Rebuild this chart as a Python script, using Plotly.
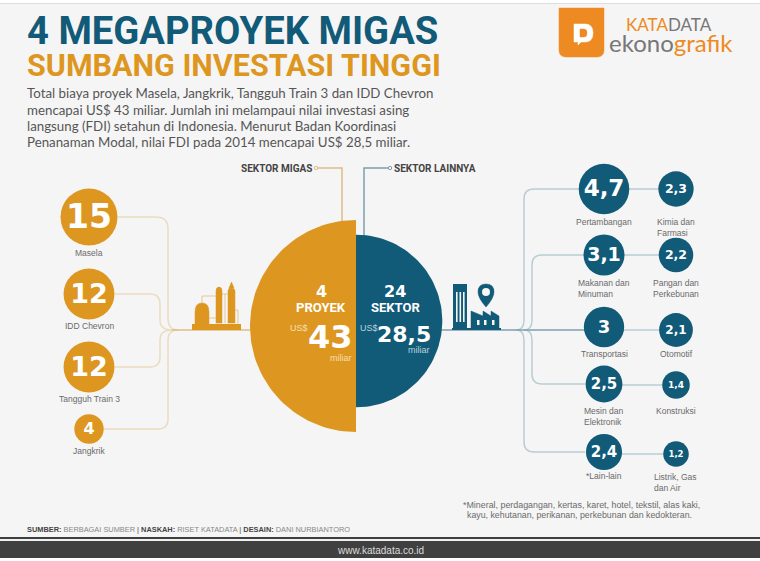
import numpy as np
import plotly.graph_objects as go

# values (US$ miliar)
proyek = ["Masela", "IDD Chevron", "Tangguh Train 3", "Jangkrik"]
proyek_val = [15, 12, 12, 4]

sektor_a = ["Pertambangan", "Makanan dan<br>Minuman", "Transportasi", "Mesin dan<br>Elektronik", "*Lain-lain"]
sektor_a_val = [4.7, 3.1, 3, 2.5, 2.4]
sektor_b = ["Kimia dan<br>Farmasi", "Pangan dan<br>Perkebunan", "Otomotif", "Konstruksi", "Listrik, Gas<br>dan Air"]
sektor_b_val = [2.3, 2.2, 2.1, 1.4, 1.2]

total_migas = 43
total_lain = 28.5

# layout stuff
proyek_x = [89, 89, 89, 89]
proyek_y = [217, 294, 367, 429]
proyek_font = [33, 27, 27, 16]
a_x = [604, 604, 604, 604, 604]
a_y = [189, 255, 327, 384, 452]
a_font = [23, 19, 18, 15, 15]
b_x = [676, 676, 676, 676, 676]
b_y = [189, 255, 330, 385, 454]
b_font = [12.5, 12.5, 12, 9, 8.5]

# label placing: (x, y, anchor) for each name
a_lab = [(604, 222, "center"), (578, 288, "left"), (604, 354, "center"), (584, 416, "left"), (604, 476, "center")]
b_lab = [(657, 227, "left"), (653, 288, "left"), (676, 354, "center"), (676, 411, "center"), (654, 482, "left")]

ORANGE = "#dd9720"
BLUE = "#115a78"
TAN = "#ecdcc0"
TAN2 = "#dcbd86"
STEEL = "#b9cdd4"
STEEL2 = "#7f9fae"
GREY = "#6a6a6a"
SANS = "Liberation Sans"
HEAD = "Roboto"
BODY = "Lato"
NUM = "DejaVu Sans"


def comma(v):
    return str(v).replace(".", ",")


fig = go.Figure()
shapes = []
notes = []


def rect(x0, y0, x1, y1, color):
    shapes.append(dict(type="rect", x0=x0, y0=y0, x1=x1, y1=y1, fillcolor=color, line_width=0, layer="below"))


def path(d, color, width=1.5, fill=None):
    s = dict(type="path", path=d, line=dict(color=color, width=width), layer="below")
    if fill:
        s["fillcolor"] = fill
    shapes.append(s)


def text(x, y, t, size, color=GREY, anchor="center", font=SANS):
    # annotations carry about 2px of padding on their anchored side
    x = x + {"left": -2, "right": 2, "center": 0}[anchor]
    notes.append(dict(x=x, y=y, text=t, showarrow=False, xanchor=anchor, yanchor="middle", align=anchor,
                      font=dict(size=size, color=color, family=font)))


# top strip and footer
rect(0, 0, 760, 3, "#ffffff")
rect(0, 3, 760, 4, "#dedede")
rect(0, 537, 760, 539, "#3f3f3f")
rect(0, 539, 760, 541, "#f0f0f0")
rect(0, 541, 760, 558, "#404040")
rect(0, 558, 760, 561, "#ffffff")

# left connectors
path("M 118 217 L 156 217 Q 168 217 168 229 L 168 318 Q 168 330 178 330", TAN)
path("M 115 294 L 150 294 Q 160 294 160 304 L 160 320 Q 160 330 172 330", TAN)
path("M 115 367 L 150 367 Q 160 367 160 357 L 160 340 Q 160 330 172 330", TAN)
path("M 104 429 L 158 429 Q 168 429 168 419 L 168 340 Q 168 330 178 330", TAN)
path("M 172 330 L 252 330", TAN2, 1.5)

# right connectors
path("M 580 189 L 534 189 Q 524 189 524 199 L 524 320 Q 524 330 516 330", STEEL)
path("M 585 255 L 542 255 Q 532 255 532 265 L 532 320 Q 532 330 524 330", STEEL)
path("M 585 384 L 542 384 Q 532 384 532 374 L 532 340 Q 532 330 524 330", STEEL)
path("M 585 452 L 534 452 Q 524 452 524 442 L 524 340 Q 524 330 516 330", STEEL)
path("M 440 330 L 590 330", STEEL2, 1.5)
for yb, xa, xb in zip(b_y, a_x, b_x):
    path(f"M {xa} {yb} L {xb} {yb}", STEEL)

# sektor callouts
path("M 316 168 L 342 168 L 342 225", TAN2)
path("M 390 168 L 364 168 L 364 240", STEEL2)
for cx, c in [(316, TAN2), (390, STEEL2)]:
    shapes.append(dict(type="circle", x0=cx - 1.7, x1=cx + 1.7, y0=166.3, y1=169.7, fillcolor="#f5f5f5",
                       line=dict(color=c, width=1), layer="below"))

# refinery icon
rect(192, 324, 241, 330, ORANGE)
path("M 195 324 L 195 312 Q 195 303 202 303 Q 209 303 209 312 L 209 324 Z", ORANGE, 0.5, ORANGE)
path("M 216 323 L 216 291 Q 216 287 219 287 Q 222 287 222 291 L 222 323 Z", ORANGE, 0.5, ORANGE)
path("M 228 323 L 228 291 Q 228 288 231 288 Q 235 288 235 291 L 235 323 Z", ORANGE, 0.5, ORANGE)
path("M 229 288 L 231.5 282 L 234 288 Z", ORANGE, 0.5, ORANGE)
path("M 202 303 L 202 296 L 216 296", TAN2, 0.8)
path("M 222 294 L 228 294", TAN2, 0.8)
path("M 225 323 L 225 294", TAN2, 0.8)
path("M 235 310 L 238 310 L 238 324", TAN2, 0.8)
path("M 209 318 L 216 318", TAN2, 0.8)

# factory icon
rect(452, 328, 501, 330, BLUE)
rect(453, 284, 467, 328, BLUE)
for sx in (456, 459.5, 463):
    rect(sx, 292, sx + 1.6, 322, "#f5f5f5")
path("M 471 328 L 471 311 L 483 316 L 483 311 L 491 316 L 491 311 L 499 316 L 499 328 Z", BLUE, 0.5, BLUE)
for wx in (477, 484, 492):
    rect(wx, 320, wx + 2.5, 325, "#f5f5f5")
path("M 478 292 Q 478 284 486 284 Q 494 284 494 292 Q 494 298 486 307 Q 478 298 478 292 Z", BLUE, 0.5, BLUE)
shapes.append(dict(type="circle", x0=482, x1=490, y0=288, y1=296, fillcolor="#f5f5f5", line_width=0, layer="below"))

# logo
path("M 559 8 L 604 8 L 604 50 Q 604 57 597 57 L 566 57 Q 559 57 559 50 Z", "#ee8a22", 0.5, "#ee8a22")
path("M 574 24 L 585 24 Q 593 24 593 33 Q 593 42 585 42 L 581 42 L 578 45 L 578 42 L 574 42 Z", "#ffffff", 0.5, "#ffffff")
path("M 580 29 L 584 29 Q 587 29 587 33 Q 587 37 584 37 L 580 37 Z", "#ee8a22", 0.5, "#ee8a22")

# half circles, radius goes with sqrt of the total
k = 106 / np.sqrt(total_migas)
r1 = k * np.sqrt(total_migas)
r2 = k * np.sqrt(total_lain)
t = np.linspace(np.pi / 2, 3 * np.pi / 2, 80)
fig.add_trace(go.Scatter(x=356 + r1 * np.cos(t), y=326 - r1 * np.sin(t), fill="toself", fillcolor=ORANGE,
                         mode="lines", line=dict(width=0, color=ORANGE), hoverinfo="skip"))
t = np.linspace(-np.pi / 2, np.pi / 2, 80)
fig.add_trace(go.Scatter(x=356 + r2 * np.cos(t), y=321 - r2 * np.sin(t), fill="toself", fillcolor=BLUE,
                         mode="lines", line=dict(width=0, color=BLUE), hoverinfo="skip"))

# bubbles
for xs, ys, vals, fonts, color, scale in [(proyek_x, proyek_y, proyek_val, proyek_font, ORANGE, 14.7),
                                          (a_x, a_y, sektor_a_val, a_font, BLUE, 23.3),
                                          (b_x, b_y, sektor_b_val, b_font, BLUE, 23.3)]:
    fig.add_trace(go.Scatter(x=xs, y=ys, mode="markers",
                             marker=dict(color=color, opacity=1, size=[scale * np.sqrt(v) for v in vals], line_width=0)))
    # digits sit a bit high when centred, push down a little
    fig.add_trace(go.Scatter(x=xs, y=[y + 0.07 * f for y, f in zip(ys, fonts)], mode="text",
                             text=[comma(v) for v in vals], textposition="middle center",
                             textfont=dict(family=NUM, color="white", size=fonts, weight="bold")))

# title + intro
text(27, 31, "<b>4 MEGAPROYEK MIGAS</b>", 38.2, BLUE, "left", HEAD)
text(27, 65, "<b>SUMBANG INVESTASI TINGGI</b>", 30.5, ORANGE, "left", HEAD)
intro = ["Total biaya proyek Masela, Jangkrik, Tangguh Train 3 dan IDD Chevron",
         "mencapai US$ 43 miliar. Jumlah ini melampaui nilai investasi asing",
         "langsung (FDI) setahun di Indonesia. Menurut Badan Koordinasi",
         "Penanaman Modal, nilai FDI pada 2014 mencapai US$ 28,5 miliar."]
for y, line in zip([93, 110, 126, 142], intro):
    text(27, y, line, 13.3, "#555555", "left", BODY)

# logo text
text(626, 24, "<span style='color:#ee8a22'>KATA</span><span style='color:#777'>DATA</span>", 17, GREY, "left", BODY)
text(609, 42, "<span style='color:#777'>ekono</span><span style='color:#ee8a22'>grafik</span>", 24, GREY, "left", BODY)

text(312, 168, "<b>SEKTOR MIGAS</b>", 10, "#444444", "right", HEAD)
text(394, 168, "<b>SEKTOR LAINNYA</b>", 10, "#444444", "left", HEAD)

# bubble labels
for x, y, name in zip(proyek_x, [253, 326, 399, 451], proyek):
    text(x, y, name, 8.5)
for (x, y, anchor), name in zip(a_lab + b_lab, sektor_a + sektor_b):
    text(x, y, name, 8.5, GREY, anchor)

# inside the half circles
rect(291, 317, 352, 318, "#f2d9a8")
rect(360, 317, 430, 318, "#a8c6d2")
text(321, 291, f"<b>{len(proyek)}</b>", 16, "white", "center", NUM)
text(321, 307, "<b>PROYEK</b>", 13, "white", "center", HEAD)
text(299, 328, "US$", 9, "#f5dfb4")
text(330, 337, f"<b>{total_migas}</b>", 32, "white", "center", NUM)
text(352, 358, "miliar", 9, "#f5dfb4", "right")
text(395, 291, "<b>24</b>", 16, "white", "center", NUM)
text(395, 307, "<b>SEKTOR</b>", 13, "white", "center", HEAD)
text(369, 328, "US$", 9, "#b9d3dd")
text(404, 334, f"<b>{comma(total_lain)}</b>", 22, "white", "center", NUM)
text(430, 350, "miliar", 9, "#b9d3dd", "right")

# footnote + credits
text(463, 505, "*Mineral, perdagangan, kertas, karet, hotel, tekstil, alas kaki,", 8.9, GREY, "left")
text(467, 515, "kayu, kehutanan, perikanan, perkebunan dan kedokteran.", 8.8, GREY, "left")
text(27, 529, "<b>SUMBER:</b> <span style='color:#888'>BERBAGAI SUMBER</span> | <b>NASKAH:</b> "
              "<span style='color:#888'>RISET KATADATA</span> | <b>DESAIN:</b> "
              "<span style='color:#888'>DANI NURBIANTORO</span>", 7.4, "#444444", "left")
text(380, 550, "www.katadata.co.id", 10, "#dddddd")

fig.update_layout(width=760, height=561, margin=dict(l=0, r=0, t=0, b=0), showlegend=False,
                  paper_bgcolor="#f5f5f5", plot_bgcolor="#f5f5f5", shapes=shapes, annotations=notes,
                  hovermode=False,
                  xaxis=dict(range=[0, 760], visible=False, fixedrange=True),
                  yaxis=dict(range=[561, 0], visible=False, fixedrange=True))
fig.write_html("out.html", config={"displayModeBar": False},
               post_script="document.body.style.margin='0';document.documentElement.style.overflow='hidden';")
